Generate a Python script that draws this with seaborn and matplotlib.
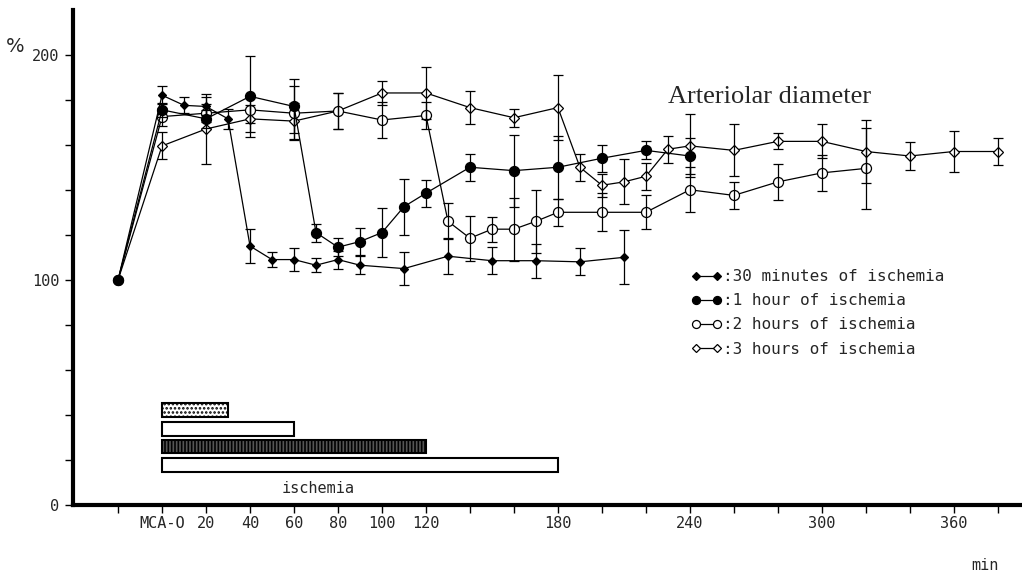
import matplotlib
matplotlib.use('Agg')
import matplotlib.pyplot as plt
import seaborn as sns
from matplotlib.lines import Line2D

# time after MCA occlusion (min), arteriolar diameter (% of baseline), SD
t_30min = [-20, 0, 10, 20, 30, 40, 50, 60, 70, 80, 90, 110, 130, 150, 170, 190, 210]
d_30min = [100, 182, 177.5, 177, 171.5, 115, 109, 109, 106.5, 109, 106.5, 105, 110.5, 108.5, 108.5, 108, 110]
e_30min = [0, 4, 3.5, 4, 4.5, 7.5, 3.5, 5, 3, 4, 4, 7.5, 8, 6, 7.5, 6, 12]

t_1h = [-20, 0, 20, 40, 60, 70, 80, 90, 100, 110, 120, 140, 160, 180, 200, 220, 240]
d_1h = [100, 175.5, 171.5, 181.5, 177, 121, 114.5, 117, 121, 132.5, 138.5, 150, 148.5, 150, 154, 157.5, 155]
e_1h = [0, 3, 4, 18, 12, 4, 4, 6, 11, 12.5, 6, 6, 16, 14, 6, 4, 8]

t_2h = [-20, 0, 20, 40, 60, 80, 100, 120, 130, 140, 150, 160, 170, 180, 200, 220, 240, 260, 280, 300, 320]
d_2h = [100, 172.5, 174, 175.5, 174, 175, 171, 173, 126, 118.5, 122.5, 122.5, 126, 130, 130, 130, 140, 137.5, 143.5, 147.5, 149.5]
e_2h = [0, 4, 4, 6, 12, 8, 8, 6, 8, 10, 5.5, 14, 14, 6, 8.5, 7.5, 10, 6, 8, 8, 18]

t_3h = [-20, 0, 20, 40, 60, 80, 100, 120, 140, 160, 180, 190, 200, 210, 220, 230, 240, 260, 280, 300, 320, 340, 360, 380]
d_3h = [100, 159.5, 167, 171.5, 170.5, 175, 183, 183, 176.5, 172, 176.5, 150, 142, 143.5, 146, 158, 159.5, 157.5, 161.5, 161.5, 157, 155, 157, 157]
e_3h = [0, 6, 15.5, 6, 8, 8, 5.5, 11.5, 7.5, 4, 14.5, 6, 5, 10, 6, 6, 14, 11.5, 3.5, 7.5, 14, 6, 9, 6]

# duration of ischemia for each group (min)
isch_dur = [30, 60, 120, 180]

legend_labels = [':30 minutes of ischemia', ':1 hour of ischemia',
                 ':2 hours of ischemia', ':3 hours of ischemia']

xtick_pos = list(range(-20, 381, 20))
xtick_named = {0: 'MCA-O', 20: '20', 40: '40', 60: '60', 80: '80', 100: '100',
               120: '120', 180: '180', 240: '240', 300: '300', 360: '360'}

sns.set_style('ticks')
plt.rcParams['font.family'] = ['DejaVu Sans Mono', 'DejaVu Sans']

fig = plt.figure(figsize=(10.22, 5.78), dpi=100)
ax = fig.add_axes([0.0714, 0.1263, 0.9286, 0.857])

# series styles: marker, size, face
styles = [
    ('D', 4.5, 'black'),
    ('o', 7.2, 'black'),
    ('o', 7.2, 'white'),
    ('D', 5.6, 'white'),
]
series = [(t_3h, d_3h, e_3h, styles[3]),
          (t_2h, d_2h, e_2h, styles[2]),
          (t_1h, d_1h, e_1h, styles[1]),
          (t_30min, d_30min, e_30min, styles[0])]

for t, d, e, (mk, ms, fc) in series:
    sns.lineplot(x=t, y=d, ax=ax, color='black', lw=0.9, marker=mk, ms=ms,
                 mfc=fc, mec='black', mew=0.9, errorbar=None, zorder=2)
    ax.errorbar(t[1:], d[1:], yerr=e[1:], fmt='none', ecolor='black',
                elinewidth=0.9, capsize=3.6, capthick=0.9, zorder=3)

# ischemia bars
bar_y = [42.2, 33.8, 26.0, 17.8]
plt.rcParams['hatch.linewidth'] = 1.2
ax.barh(bar_y[0], isch_dur[0], left=0, height=6, facecolor='white',
        edgecolor='black', linewidth=1.5, hatch='....')
ax.barh(bar_y[1], isch_dur[1], left=0, height=6, facecolor='white',
        edgecolor='black', linewidth=1.5)
ax.barh(bar_y[2], isch_dur[2], left=0, height=6, facecolor='#555555',
        edgecolor='black', linewidth=1.5, hatch='|||||')
ax.barh(bar_y[3], isch_dur[3], left=0, height=6, facecolor='white',
        edgecolor='black', linewidth=1.5)
ax.text(71, 7.5, 'ischemia', ha='center', va='center', fontsize=11)

ax.text(230, 181, 'Arteriolar diameter', family='Liberation Serif',
        fontsize=19, ha='left', va='center')

# legend
handles = []
for mk, ms, fc in styles:
    handles.append(Line2D([0], [0], color='black', lw=0.9, marker=mk,
                          ms=ms * 0.8, mfc=fc, mec='black', mew=0.9))
ax.legend(handles, legend_labels, numpoints=2, frameon=False,
          loc='upper left', bbox_to_anchor=(0.643, 0.492), borderpad=0,
          handlelength=1.9, handletextpad=0.1, labelspacing=0.57,
          prop={'family': 'DejaVu Sans Mono', 'size': 11.5})

ax.set_xlim(-40.5, 391)
ax.set_ylim(0, 220)
ax.set_xticks(xtick_pos)
ax.set_xticklabels([xtick_named.get(p, '') for p in xtick_pos])
ax.set_yticks([0, 100, 200])
ax.set_yticks(range(20, 200, 20), minor=True)
ax.tick_params(axis='both', which='both', direction='out', length=6,
               width=1, labelsize=11, pad=4, color='black')
ax.tick_params(axis='x', pad=2)
ax.set_xlabel('')
ax.set_ylabel('')

for side in ['top', 'right']:
    ax.spines[side].set_visible(False)
for side in ['left', 'bottom']:
    ax.spines[side].set_linewidth(3)
    ax.spines[side].set_color('black')

fig.text(15 / 1022, 1 - 46 / 578, '%', fontsize=14, family='DejaVu Sans',
         ha='center', va='center')
fig.text(985 / 1022, 1 - 565 / 578, 'min', fontsize=11, ha='center', va='center')

fig.savefig('out.png', dpi=100)
